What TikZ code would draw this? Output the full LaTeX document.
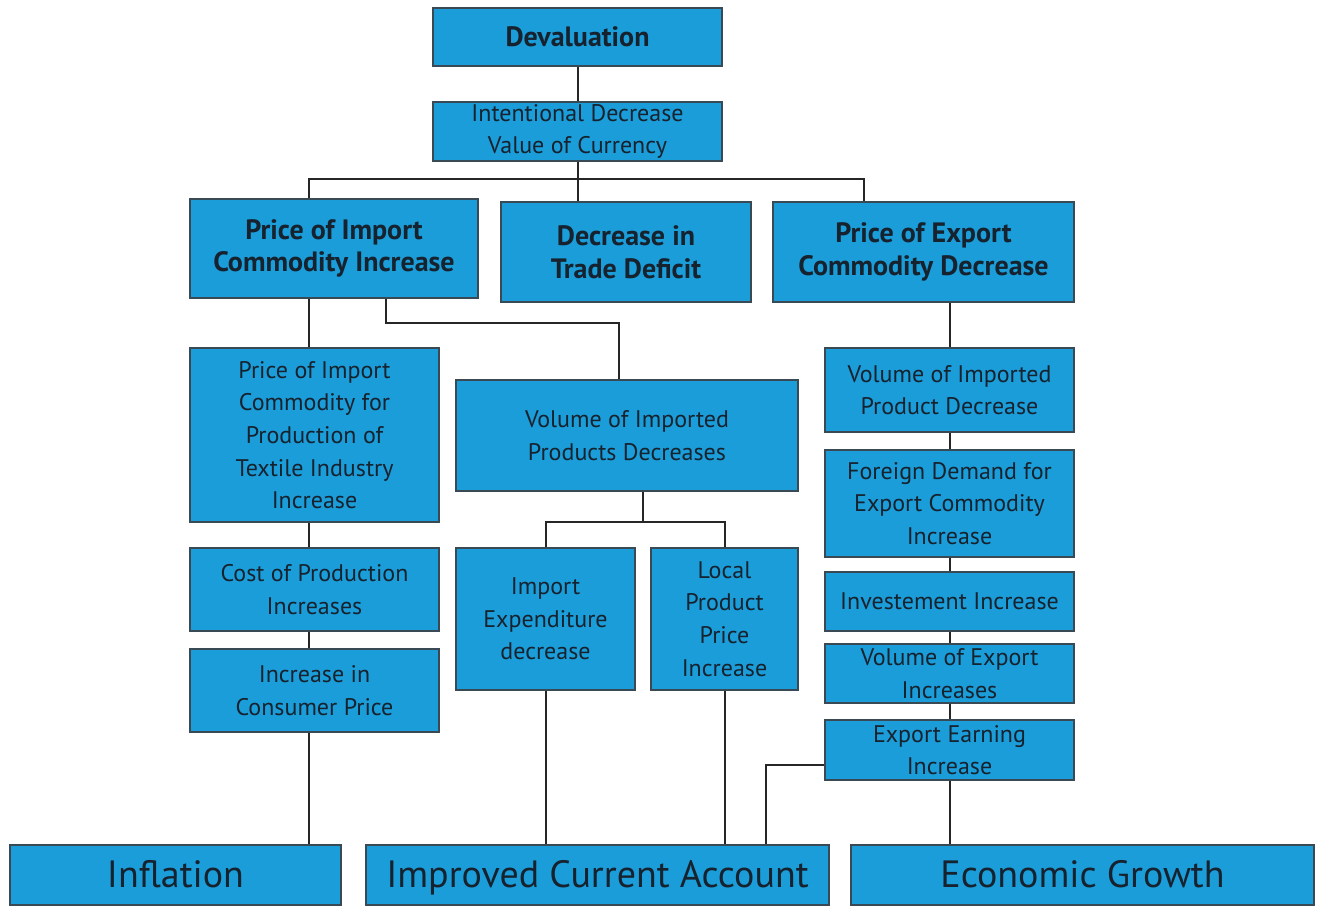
\documentclass[tikz,border=0pt]{standalone}
\usepackage{fontspec}
\setmainfont{PT Sans}
\definecolor{boxblue}{HTML}{1B9DD9}
\definecolor{boxline}{HTML}{3A4A55}
\definecolor{boxtext}{HTML}{16222E}
\begin{document}
\begin{tikzpicture}[x=0.75pt, y=-0.75pt,
    box/.style={draw=boxline, line width=0.8pt, fill=boxblue, text=boxtext, inner sep=0pt, align=center, font=\fontsize{18}{24.5}\selectfont},
    head/.style={box, font=\fontsize{21}{24.5}\selectfont\bfseries},
    big/.style={box, font=\fontsize{28.5}{32}\selectfont, text height=22pt, text depth=3pt},
    sz/.style 2 args={minimum width=#1*0.75pt, minimum height=#2*0.75pt},
    link/.style={draw=black!85, line width=1.5pt}]
    \useasboundingbox (0,0) rectangle (1325,907);
    \node[head, sz={289}{58}] (deval) at (577.5,37) {Devaluation};
    \node[box, sz={289}{59}] (intent) at (577.5,131.5) {Intentional Decrease\\Value of Currency};
    \node[head, sz={288}{99}] (pimp) at (334,248.5) {Price of Import\\Commodity Increase};
    \node[head, sz={250}{100}] (trade) at (626,252) {Decrease in\\Trade Deficit};
    \node[head, sz={301}{100}] (pexp) at (923.5,252) {Price of Export\\Commodity Decrease};
    \node[box, sz={249}{174}] (textile) at (314.5,435) {Price of Import\\Commodity for\\Production of\\Textile Industry\\Increase};
    \node[box, sz={342}{111}] (volimp) at (627,435.5) {Volume of Imported\\Products Decreases};
    \node[box, sz={249}{83}] (cost) at (314.5,589.5) {Cost of Production\\Increases};
    \node[box, sz={249}{83}] (consumer) at (314.5,690.5) {Increase in\\Consumer Price};
    \node[box, sz={179}{142}] (expend) at (545.5,619) {Import\\Expenditure\\decrease};
    \node[box, sz={147}{142}] (local) at (724.5,619) {Local\\Product\\Price\\Increase};
    \node[box, sz={249}{84}] (volprod) at (949.5,390) {Volume of Imported\\Product Decrease};
    \node[box, sz={249}{107}] (demand) at (949.5,503.5) {Foreign Demand for\\Export Commodity\\Increase};
    \node[box, sz={249}{59}] (invest) at (949.5,601.5) {Investement Increase};
    \node[box, sz={249}{59}] (volexp) at (949.5,673.5) {Volume of Export\\Increases};
    \node[box, sz={249}{60}] (earning) at (949.5,750) {Export Earning\\Increase};
    \node[big, sz={331}{60}] (inflation) at (175.5,875) {Inflation};
    \node[big, sz={463}{60}] (account) at (597.5,875) {Improved Current Account};
    \node[big, sz={463}{60}] (growth) at (1082.5,875) {Economic Growth};
    \coordinate (bl) at (309,179);
    \coordinate (br) at (864,179);
    \coordinate (ka) at (386,323);
    \coordinate (kb) at (619,323);
    \coordinate (vm) at (643,522);
    \coordinate (ek) at (766,765);
    \draw[link] (deval) -- (intent);
    \draw[link] (intent.south) -- (intent.south |- trade.north);
    \draw[link] (bl |- pimp.north) -- (bl) -- (br) -- (br |- pexp.north);
    \draw[link] (bl |- pimp.south) -- (bl |- textile.north);
    \draw[link] (ka |- pimp.south) -- (ka) -- (kb) -- (kb |- volimp.north);
    \draw[link] (bl |- textile.south) -- (bl |- cost.north);
    \draw[link] (bl |- cost.south) -- (bl |- consumer.north);
    \draw[link] (bl |- consumer.south) -- (bl |- inflation.north);
    \draw[link] (vm |- volimp.south) -- (vm);
    \draw[link] (expend.north) -- (expend.north |- vm) -- (local.north |- vm) -- (local.north);
    \draw[link] (expend.south) -- (expend.south |- account.north);
    \draw[link] (local.south) -- (local.south |- account.north);
    \draw[link] (volprod.north |- pexp.south) -- (volprod.north);
    \draw[link] (volprod) -- (demand);
    \draw[link] (demand) -- (invest);
    \draw[link] (invest) -- (volexp);
    \draw[link] (volexp) -- (earning);
    \draw[link] (earning.south) -- (earning.south |- growth.north);
    \draw[link] (earning.west |- ek) -- (ek) -- (ek |- account.north);
\end{tikzpicture}
\end{document}
